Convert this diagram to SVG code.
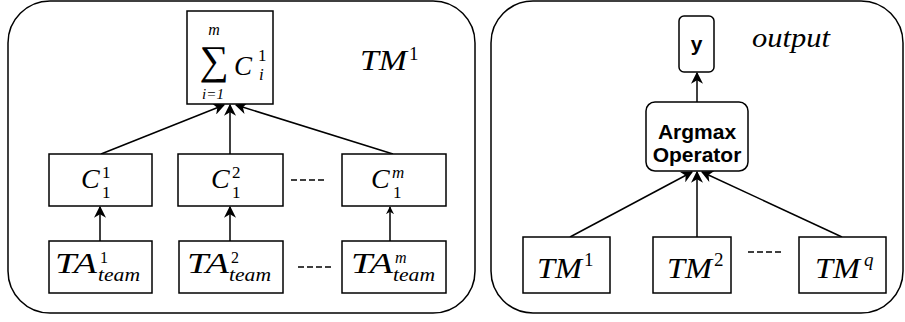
<svg xmlns="http://www.w3.org/2000/svg" width="905" height="322" viewBox="0 0 905 322">
  <defs>
    <style>
      .frame { fill: #ffffff; stroke: #000000; stroke-width: 1.5; }
      .box { fill: #ffffff; stroke: #000000; stroke-width: 1.5; }
      .edge { fill: none; stroke: #000000; stroke-width: 1.5; }
      .dash { fill: none; stroke: #000000; stroke-width: 1.5; stroke-dasharray: 6 3; }
      .m { font-family: "Liberation Serif", "DejaVu Serif", serif; font-style: italic; fill: #000000; }
      .n { font-family: "Liberation Serif", "DejaVu Serif", serif; fill: #000000; }
      .b { font-family: "Liberation Sans", Arial, sans-serif; font-weight: bold; fill: #000000; }
    </style>
    <marker id="arrow" viewBox="0 0 10 10" refX="9" refY="5" markerWidth="8" markerHeight="8" markerUnits="userSpaceOnUse" orient="auto">
      <path d="M0,0 L10,5 L0,10 L3,5 Z" fill="#000000"/>
    </marker>
    <marker id="arrowBig" viewBox="0 0 10 10" refX="9" refY="5" markerWidth="13" markerHeight="12" markerUnits="userSpaceOnUse" orient="auto">
      <path d="M0,0 L10,5 L0,10 L3,5 Z" fill="#000000"/>
    </marker>
  </defs>

  <!-- outer containers -->
  <g id="team-model-frame">
    <rect class="frame" x="8" y="1" width="467" height="312" rx="42" ry="42"/>
    <text class="m" x="360" y="70" font-size="29" textLength="47" lengthAdjust="spacingAndGlyphs">TM</text>
    <text class="n" x="409" y="60" font-size="19">1</text>
  </g>
  <g id="output-frame">
    <rect class="frame" x="491" y="1" width="412" height="312" rx="42" ry="42"/>
    <text class="m" x="752" y="47" font-size="27" textLength="78" lengthAdjust="spacingAndGlyphs">output</text>
  </g>

  <!-- connectors -->
  <g id="connectors">
    <line class="edge" x1="100" y1="241" x2="100" y2="207" stroke-width="2.5" marker-end="url(#arrowBig)"/>
    <line class="edge" x1="230" y1="241" x2="230" y2="207" marker-end="url(#arrowBig)"/>
    <line class="edge" x1="390" y1="241" x2="390" y2="207" marker-end="url(#arrow)"/>
    <line class="edge" x1="101" y1="154" x2="224" y2="105" marker-end="url(#arrowBig)"/>
    <line class="edge" x1="230" y1="154" x2="230" y2="105" marker-end="url(#arrowBig)"/>
    <line class="edge" x1="393" y1="154" x2="236" y2="105" marker-end="url(#arrowBig)"/>
    <line class="edge" x1="570" y1="237" x2="692" y2="172" marker-end="url(#arrowBig)"/>
    <line class="edge" x1="697" y1="237" x2="697" y2="172" marker-end="url(#arrowBig)"/>
    <line class="edge" x1="842" y1="237" x2="702" y2="172" marker-end="url(#arrowBig)"/>
    <line class="edge" x1="697" y1="102" x2="697" y2="73" marker-end="url(#arrowBig)"/>
    <line class="dash" x1="291" y1="180" x2="325" y2="180"/>
    <line class="dash" x1="298" y1="267" x2="332" y2="267"/>
    <line class="dash" x1="748" y1="252" x2="783" y2="252"/>
  </g>

  <!-- sum node -->
  <g id="sum">
    <rect class="box" x="187" y="11" width="86" height="93"/>
    <text class="n" x="214" y="74" font-size="41" text-anchor="middle" font-family="DejaVu Serif, serif">∑</text>
    <text class="m" x="214" y="35" font-size="16" text-anchor="middle">m</text>
    <text class="m" x="213" y="99" font-size="15" text-anchor="middle">i=1</text>
    <text class="m" x="234" y="75" font-size="27">C</text>
    <text class="n" x="258" y="61" font-size="17">1</text>
    <text class="m" x="259" y="80" font-size="17">i</text>
  </g>

  <!-- per-agent clause outputs -->
  <g id="c1">
    <rect class="box" x="49" y="154" width="103" height="52"/>
    <text class="m" x="81" y="188" font-size="28">C</text>
    <text class="n" x="102" y="178" font-size="17">1</text>
    <text class="n" x="102" y="198" font-size="17">1</text>
  </g>
  <g id="c2">
    <rect class="box" x="178" y="154" width="105" height="52"/>
    <text class="m" x="211" y="188" font-size="28">C</text>
    <text class="n" x="232" y="178" font-size="17">2</text>
    <text class="n" x="232" y="198" font-size="17">1</text>
  </g>
  <g id="cm">
    <rect class="box" x="342" y="154" width="104" height="52"/>
    <text class="m" x="371" y="188" font-size="28">C</text>
    <text class="m" x="392" y="178" font-size="17">m</text>
    <text class="n" x="393" y="198" font-size="17">1</text>
  </g>

  <!-- team automata -->
  <g id="ta1">
    <rect class="box" x="49" y="241" width="103" height="52"/>
    <text class="m" x="55" y="273" font-size="30" textLength="42" lengthAdjust="spacingAndGlyphs">TA</text>
    <text class="n" x="100" y="263" font-size="16">1</text>
    <text class="m" x="98" y="281" font-size="18" textLength="42" lengthAdjust="spacingAndGlyphs">team</text>
  </g>
  <g id="ta2">
    <rect class="box" x="179" y="241" width="104" height="52"/>
    <text class="m" x="187" y="273" font-size="30" textLength="42" lengthAdjust="spacingAndGlyphs">TA</text>
    <text class="n" x="231" y="263" font-size="16">2</text>
    <text class="m" x="229" y="281" font-size="18" textLength="42" lengthAdjust="spacingAndGlyphs">team</text>
  </g>
  <g id="tam">
    <rect class="box" x="342" y="241" width="104" height="52"/>
    <text class="m" x="351" y="273" font-size="30" textLength="42" lengthAdjust="spacingAndGlyphs">TA</text>
    <text class="m" x="395" y="263" font-size="16">m</text>
    <text class="m" x="393" y="281" font-size="18" textLength="42" lengthAdjust="spacingAndGlyphs">team</text>
  </g>

  <!-- right panel nodes -->
  <g id="y">
    <rect class="box" x="679" y="16" width="35" height="56" rx="5" ry="5"/>
    <text class="b" x="696.5" y="51" font-size="21" text-anchor="middle">y</text>
  </g>
  <g id="argmax">
    <rect class="box" x="646" y="102" width="102" height="69" rx="9" ry="9"/>
    <text class="b" x="697" y="139" font-size="21" text-anchor="middle">Argmax</text>
    <text class="b" x="697" y="162" font-size="21" text-anchor="middle">Operator</text>
  </g>
  <g id="tm1">
    <rect class="box" x="523" y="237" width="87" height="56"/>
    <text class="m" x="537" y="278" font-size="29" textLength="45" lengthAdjust="spacingAndGlyphs">TM</text>
    <text class="n" x="584" y="266" font-size="19">1</text>
  </g>
  <g id="tm2">
    <rect class="box" x="653" y="237" width="78" height="56"/>
    <text class="m" x="667" y="278" font-size="29" textLength="45" lengthAdjust="spacingAndGlyphs">TM</text>
    <text class="n" x="714" y="266" font-size="19">2</text>
  </g>
  <g id="tmq">
    <rect class="box" x="799" y="237" width="87" height="56"/>
    <text class="m" x="815" y="278" font-size="29" textLength="45" lengthAdjust="spacingAndGlyphs">TM</text>
    <text class="m" x="864" y="266" font-size="19">q</text>
  </g>
</svg>
